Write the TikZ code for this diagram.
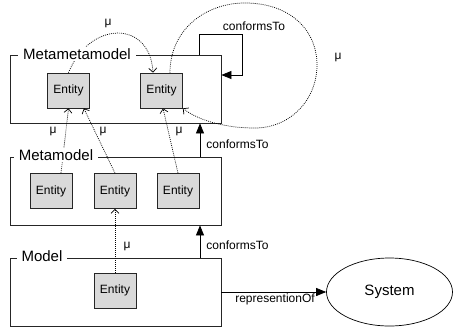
\documentclass[tikz,border=0pt]{standalone}
\usepackage{fontspec}
\setmainfont{Liberation Sans}
\usetikzlibrary{arrows.meta,shapes.geometric}
\definecolor{entfill}{HTML}{D9D9D9}
\tikzset{
  bigbox/.style={draw=black!85,line width=0.8pt,minimum width=211pt,minimum height=68pt,inner sep=0pt},
  entity/.style={draw=black!85,line width=0.7pt,fill=entfill,minimum width=42pt,minimum height=35pt,inner sep=0pt,font=\fontsize{12}{14}\selectfont},
  title/.style={fill=white,inner xsep=5pt,inner ysep=1pt,font=\fontsize{15}{18}\selectfont},
  lbl/.style={font=\fontsize{12}{14}\selectfont,inner sep=0pt},
  conf/.style={draw=black,line width=0.7pt,-{Triangle[length=10pt,width=8pt]}},
  inst/.style={draw=black,line width=0.7pt,dash pattern=on 0.9pt off 1.1pt,-{Straight Barb[length=4pt,width=8pt]}},
}
\begin{document}
\begin{tikzpicture}[x=1pt,y=-1pt]
\useasboundingbox (0,0) rectangle (455,327);
% boxes
\node[bigbox] (mmm) at (115.5,89) {};
\node[bigbox] (mm) at (115.5,191) {};
\node[bigbox] (m) at (115.5,292) {};
% entities
\node[entity] (mmme1) at (68.5,90.5) {Entity};
\node[entity] (mmme2) at (161.5,90.5) {Entity};
\node[entity] (mme1) at (51,191) {Entity};
\node[entity] (mme2) at (115,191) {Entity};
\node[entity] (mme3) at (178,191) {Entity};
\node[entity] (me1) at (115,290.5) {Entity};
% system
\node[draw=black,line width=0.7pt,ellipse,minimum width=126pt,minimum height=68pt,inner sep=0pt,font=\fontsize{15}{18}\selectfont] (sys) at (389.5,292) {System};
% instance-of (mu) connectors
\draw[inst] (mmme1.north) .. controls (90,20) and (150,20) .. ([xshift=-8.5pt]mmme2.north);
\draw[inst] ([xshift=8.5pt]mmme2.north) .. controls (170,30) and (205,3) .. (245,3)
  .. controls (290,3) and (317,30) .. (317,65)
  .. controls (317,100) and (290,128) .. (255,128)
  .. controls (220,128) and (195,118) .. (mmme2.south east);
\draw[inst] ([xshift=10pt]mme1.north) -- (mmme1.south);
\draw[inst] (mme2.north) -- ([xshift=-6pt]mmme1.south east);
\draw[inst] (mme3.north) -- ([xshift=1.5pt]mmme2.south);
\draw[inst] (me1.north) -- (mme2.south);
% conformsTo
\draw[conf] ([xshift=83.5pt]mmm.north) |- (242,34) |- ([yshift=14pt]mmm.east);
\draw[conf] ([xshift=84.5pt]mm.north) -- ([xshift=84.5pt]mmm.south);
\draw[conf] ([xshift=84.5pt]m.north) -- ([xshift=84.5pt]mm.south);
\draw[conf] (m.east) -- (sys.west);
% titles
\node[title] (t1) at (77,54) {Metametamodel};
\node[title] (t2) at (56,155) {Metamodel};
\node[title] (t3) at (42,256) {Model};
% labels
\node[lbl] (c1) at (254,26) {conformsTo};
\node[lbl] (c2) at (237.5,144) {conformsTo};
\node[lbl] (c3) at (237.5,245) {conformsTo};
\node[lbl] (r1) at (275,299) {representionOf};
\node[lbl] (u1) at (108,23) {μ};
\node[lbl] (u2) at (53,131) {μ};
\node[lbl] (u3) at (103,131) {μ};
\node[lbl] (u4) at (179,131) {μ};
\node[lbl] (u5) at (338,57) {μ};
\node[lbl] (u6) at (127,246) {μ};
\end{tikzpicture}
\end{document}
